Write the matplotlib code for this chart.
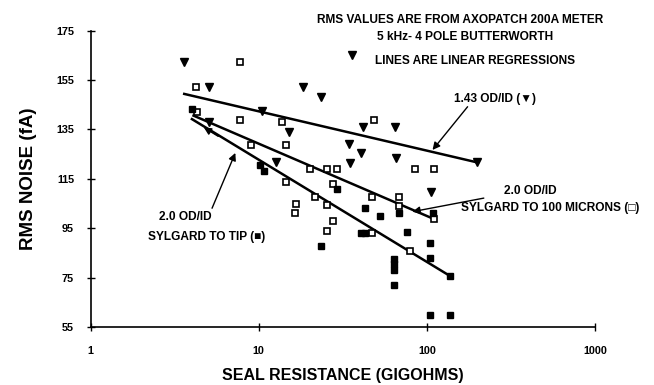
import numpy as np
import matplotlib
matplotlib.use("Agg")
import matplotlib.pyplot as plt

plt.rcParams['font.family'] = ['Liberation Sans', 'DejaVu Sans']
plt.rcParams['font.weight'] = 'bold'

# 1.43 OD/ID pipettes (filled down triangles)
tri_r = [3.57, 5.03, 5.03, 10.5, 15.1, 12.6, 18.4, 23.3, 36.0, 41.9, 64.6,
         34.4, 40.4, 34.8, 65.3, 106, 198]
tri_noise = [162.2, 152.3, 138.2, 142.4, 133.9, 121.9, 152.3, 148.3, 165.3, 136.1, 136.1,
             129.1, 125.4, 121.3, 123.3, 109.8, 121.7]

# 2.0 OD/ID, sylgard to 100 microns (open squares)
open_r = [7.77, 4.25, 4.29, 7.77, 13.8, 9.0, 14.6, 48.4, 20.2, 25.4, 29.1, 84.7, 110.7,
          14.6, 27.5, 21.7, 25.4, 16.6, 16.5, 27.5, 25.4, 47.4, 68.3, 68.3, 47.4, 79.1, 110.4]
open_noise = [162.2, 152.3, 142.2, 138.8, 138.2, 128.7, 128.7, 139.0, 119.0, 119.0, 119.0, 119.0, 119.0,
              113.9, 112.9, 107.8, 104.5, 104.7, 101.2, 97.8, 94.0, 107.8, 107.8, 104.1, 92.9, 85.9, 98.9]

# 2.0 OD/ID, sylgard to tip (filled squares)
fill_r = [4.0, 10.1, 10.7, 29.0, 42.8, 52.4, 68.3, 108, 76.6, 40.4, 42.6, 23.3, 103.8,
          103.8, 63.7, 63.7, 63.7, 63.7, 137, 103.8, 137]
fill_noise = [143.2, 120.8, 118.0, 110.7, 103.3, 99.8, 101.1, 101.1, 93.6, 93.1, 93.1, 87.9, 89.0,
              82.9, 82.7, 80.5, 78.1, 72.0, 75.7, 59.9, 59.9]

# regression line end points
tri_fit_r = [3.6, 198]
tri_fit_noise = [149.4, 121.7]
open_fit_r = [4.09, 110.4]
open_fit_noise = [140.6, 98.7]
fill_fit_r = [4.0, 137]
fill_fit_noise = [139.2, 75.7]

xticks = [1, 10, 100, 1000]
yticks = [55, 75, 95, 115, 135, 155, 175]

fig = plt.figure(figsize=(6.54, 3.85), dpi=100)
ax = fig.add_axes([0.1387, 0.1506, 0.7711, 0.7697])

ax.plot(tri_fit_r, tri_fit_noise, color='k', lw=1.8)
ax.plot(open_fit_r, open_fit_noise, color='k', lw=1.8)
ax.plot(fill_fit_r, fill_fit_noise, color='k', lw=1.8)

ax.plot(tri_r, tri_noise, 'v', color='k', ms=6.3, ls='none')
ax.plot(open_r, open_noise, 's', mfc='white', mec='k', mew=1.2, ms=4.8, ls='none')
ax.plot(fill_r, fill_noise, 's', color='k', ms=5, ls='none')

ax.set_xscale('log')
ax.set_xlim(1, 1000)
ax.set_ylim(55, 175)
ax.set_xticks(xticks)
ax.set_xticklabels([str(t) for t in xticks])
ax.xaxis.set_minor_locator(matplotlib.ticker.NullLocator())
ax.set_yticks(yticks)
ax.tick_params(direction='inout', length=6, width=1, labelsize=7.8)
ax.tick_params(axis='x', pad=11)
ax.tick_params(axis='y', pad=9)
for lbl in ax.get_xticklabels() + ax.get_yticklabels():
    lbl.set_fontweight('bold')

ax.spines['top'].set_visible(False)
ax.spines['right'].set_visible(False)
ax.spines['left'].set_linewidth(1.2)
ax.spines['bottom'].set_linewidth(1.2)

ax.set_xlabel('SEAL RESISTANCE (GIGOHMS)', fontsize=11.5, fontweight='bold', labelpad=8)
ax.set_ylabel('RMS NOISE (fA)', fontsize=13.5, fontweight='bold', labelpad=14)

txt = dict(fontsize=8.6, fontweight='bold', ha='center', va='center', transform=ax.transAxes)
ax.text(0.732, 1.036, 'RMS VALUES ARE FROM AXOPATCH 200A METER', **txt)
ax.text(0.742, 0.979, '5 kHz- 4 POLE BUTTERWORTH', **txt)
ax.text(0.762, 0.898, 'LINES ARE LINEAR REGRESSIONS', **txt)
ax.text(0.802, 0.771, '1.43 OD/ID (\u25bc)', **txt)
ax.text(0.871, 0.460, '2.0 OD/ID', **txt)
ax.text(0.911, 0.400, 'SYLGARD TO 100 MICRONS (\u25a1)', **txt)
ax.text(0.187, 0.371, '2.0 OD/ID', **txt)
ax.text(0.229, 0.303, 'SYLGARD TO TIP (\u25a0)', **txt)

arrow = dict(arrowstyle='-|>', color='k', lw=1, mutation_scale=11, shrinkA=0, shrinkB=0)
ax.annotate('', xy=(108, 126.7), xytext=(174.6, 144.2), arrowprops=arrow)
ax.annotate('', xy=(82, 101.7), xytext=(218, 107.2), arrowprops=arrow)
ax.annotate('', xy=(7.25, 125.5), xytext=(5.27, 103.1), arrowprops=arrow)
ax.annotate('', xy=(4.71, 135.8), xytext=(5.74, 132.2), arrowprops=arrow)

fig.savefig('out.png', dpi=100)
